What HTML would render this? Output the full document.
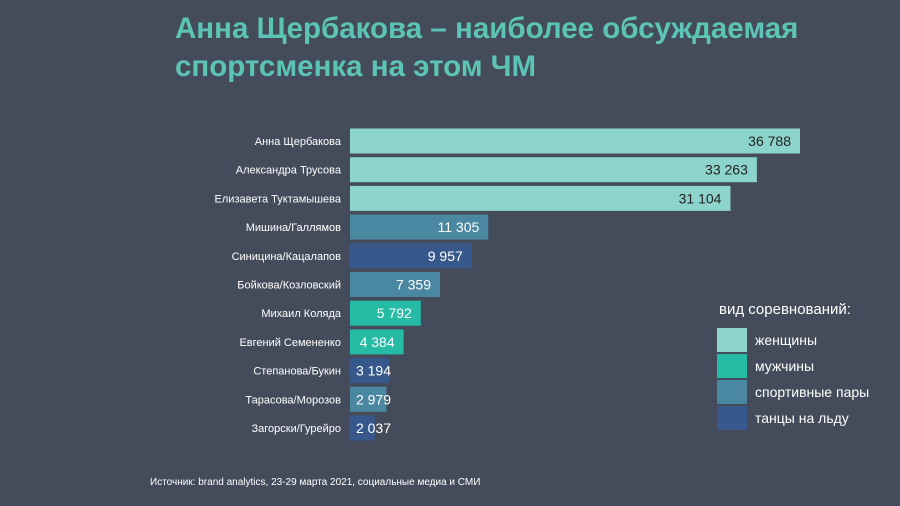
<!DOCTYPE html>
<html><head><meta charset="utf-8"><style>
html,body{margin:0;padding:0;background:#444c5b;}
body{width:900px;height:506px;overflow:hidden;font-family:"Liberation Sans","Noto Sans CJK SC",sans-serif;}
svg{display:block;}
</style></head><body>
<svg id="chart" width="900" height="506" xmlns="http://www.w3.org/2000/svg" style="font-family:'Liberation Sans',sans-serif">
<rect width="900" height="506" fill="#444c5b"/>
<text x="175" y="38" fill="#5cc4b4" font-size="29.5" font-weight="bold">Анна Щербакова – наиболее обсуждаемая</text>
<text x="175" y="76" fill="#5cc4b4" font-size="29.5" font-weight="bold">спортсменка на этом ЧМ</text>
<g id="bars"></g>
<g>
<text x="719" y="314" fill="#fff" font-size="15">вид соревнований:</text>
<rect x="717" y="328" width="30" height="24" fill="#8dd4cc"/>
<text x="755" y="345" fill="#fff" font-size="14">женщины</text>
<rect x="717" y="354" width="30" height="24" fill="#26bba5"/>
<text x="755" y="371" fill="#fff" font-size="14">мужчины</text>
<rect x="717" y="380" width="30" height="24" fill="#4a87a0"/>
<text x="755" y="397" fill="#fff" font-size="14">спортивные пары</text>
<rect x="717" y="406" width="30" height="24" fill="#36588a"/>
<text x="755" y="423" fill="#fff" font-size="14">танцы на льду</text>
</g>
<text x="150" y="485" fill="#fff" font-size="10">Источник: brand analytics, 23-29 марта 2021, социальные медиа и СМИ</text>
</svg>
<script>
const categories=["Анна Щербакова","Александра Трусова","Елизавета Туктамышева","Мишина/Галлямов","Синицина/Кацалапов","Бойкова/Козловский","Михаил Коляда","Евгений Семененко","Степанова/Букин","Тарасова/Морозов","Загорски/Гурейро"];
const values=[36788,33263,31104,11305,9957,7359,5792,4384,3194,2979,2037];
const types=["w","w","w","p","d","p","m","m","d","p","d"];
const colors={w:"#8dd4cc",m:"#26bba5",p:"#4a87a0",d:"#36588a"};
const x0=350,maxW=450,maxV=36788;
const xs=v=>v/maxV*maxW;
const yc=i=>141+i*28.7;
const g=document.getElementById('bars');
const NS="http://www.w3.org/2000/svg";
const fmt=v=>String(v).replace(/\B(?=(\d{3})+(?!\d))/g,' ');
categories.forEach((c,i)=>{
 const r=document.createElementNS(NS,'rect');
 r.setAttribute('x',x0);r.setAttribute('y',yc(i)-12.5);
 r.setAttribute('width',xs(values[i]));r.setAttribute('height',25);
 r.setAttribute('fill',colors[types[i]]);
 
 
 g.appendChild(r);
 const l=document.createElementNS(NS,'text');
 l.setAttribute('x',341);l.setAttribute('y',yc(i)+4);
 l.setAttribute('text-anchor','end');l.setAttribute('fill','#fff');l.setAttribute('font-size','11');
 l.textContent=c;
 
 
 g.appendChild(l);
 const t=document.createElementNS(NS,'text');
 t.setAttribute('x',Math.max(x0+xs(values[i])-9,391));t.setAttribute('y',yc(i)+5);
 t.setAttribute('text-anchor','end');t.setAttribute('font-size','14');
 t.setAttribute('fill',types[i]==='w'?'#222':'#fff');
 t.textContent=fmt(values[i]);
 
 
 g.appendChild(t);
});
</script>
</body></html>
